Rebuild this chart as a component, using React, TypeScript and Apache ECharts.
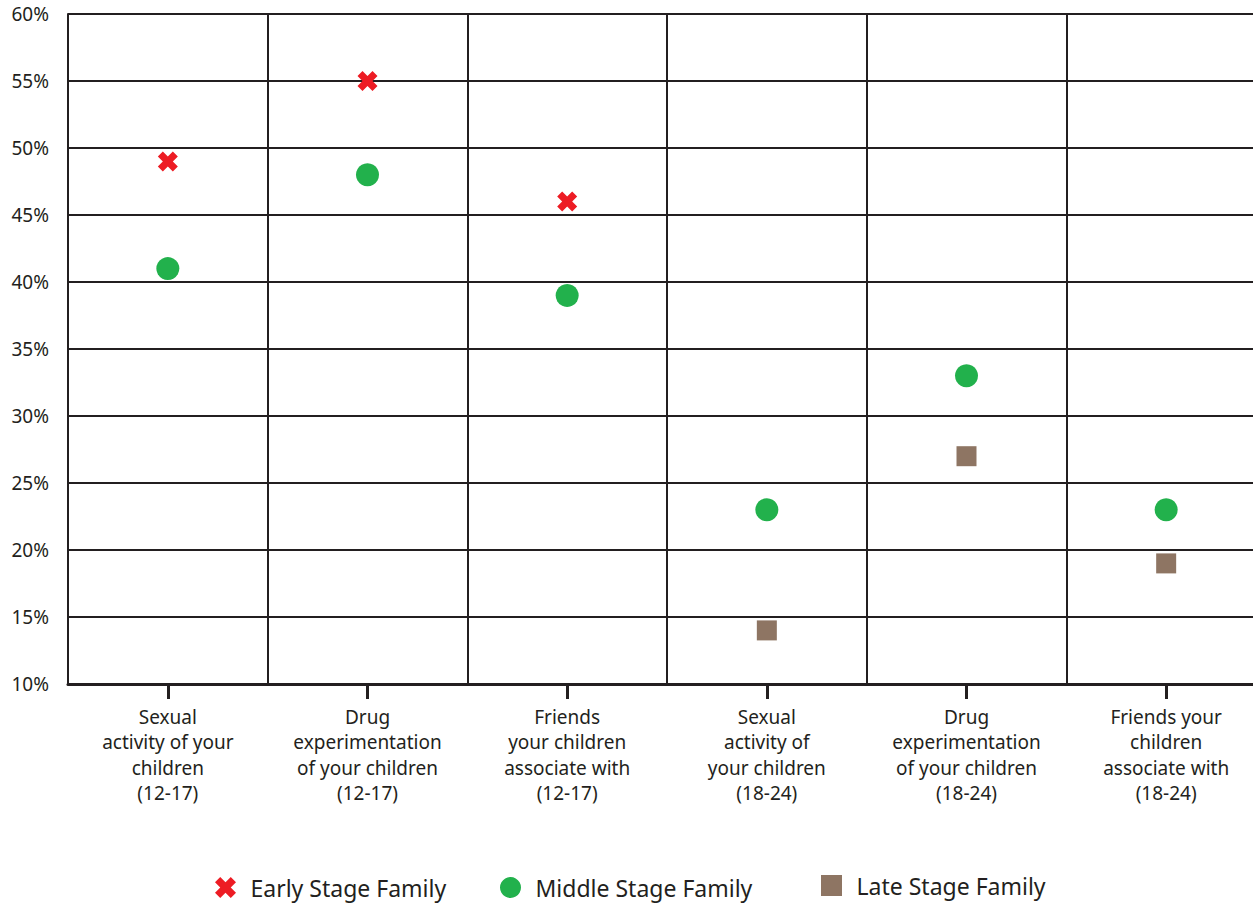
import React, { useEffect, useRef } from "react";
import * as echarts from "echarts";

const categories = [
  "Sexual\nactivity of your\nchildren\n(12-17)",
  "Drug\nexperimentation\nof your children\n(12-17)",
  "Friends\nyour children\nassociate with\n(12-17)",
  "Sexual\nactivity of\nyour children\n(18-24)",
  "Drug\nexperimentation\nof your children\n(18-24)",
  "Friends your\nchildren\nassociate with\n(18-24)",
];
const earlyStage: (number | null)[] = [49, 55, 46, null, null, null];
const middleStage: (number | null)[] = [41, 48, 39, 23, 33, 23];
const lateStage: (number | null)[] = [null, null, null, 14, 27, 19];

const CROSS = "path://M0,5 L5,0 L10,5 L15,0 L20,5 L15,10 L20,15 L15,20 L10,15 L5,20 L0,15 L5,10 Z";
const SQUARE = "path://M0,0 L20,0 L20,20 L0,20 Z";
const TEXT = "#231f20";
const FONT = "Noto Sans";

export default function App() {
  const ref = useRef<HTMLDivElement>(null);
  useEffect(() => {
    if (!ref.current) return;
    const chart = echarts.init(ref.current, null, { renderer: "svg" });
    const legendBase = (name: string, icon: string, left: number, top: number) => ({
      show: true,
      left,
      top,
      padding: 0,
      orient: "horizontal",
      selectedMode: false,
      itemWidth: 40,
      itemHeight: 21,
      data: [{ name, icon }],
      textStyle: { fontSize: 23, color: TEXT, fontFamily: FONT },
    });
    chart.setOption({
      animation: false,
      backgroundColor: "#ffffff",
      textStyle: { fontFamily: FONT },
      grid: { left: 68, right: 4, top: 14, bottom: 220, containLabel: false },
      legend: [
        legendBase("Early Stage Family", CROSS, 215, 876),
        legendBase("Middle Stage Family", "circle", 500, 876),
        legendBase("Late Stage Family", SQUARE, 821, 874),
      ],
      xAxis: {
        type: "category",
        data: categories,
        boundaryGap: true,
        axisLine: { show: true, lineStyle: { color: TEXT, width: 3 } },
        axisTick: { show: true, alignWithLabel: true, length: 15, lineStyle: { color: TEXT, width: 3 } },
        axisLabel: {
          interval: 0,
          margin: 20,
          fontSize: 19,
          lineHeight: 25.5,
          color: TEXT,
          fontFamily: FONT,
          align: "center",
        },
        splitLine: { show: true, interval: 0, lineStyle: { color: TEXT, width: 2 } },
      },
      yAxis: {
        type: "value",
        min: 10,
        max: 60,
        interval: 5,
        axisLine: { show: true, lineStyle: { color: TEXT, width: 2 } },
        axisTick: { show: false },
        axisLabel: {
          formatter: "{value}%",
          margin: 19,
          fontSize: 19,
          color: TEXT,
          fontFamily: FONT,
        },
        splitLine: { show: true, lineStyle: { color: TEXT, width: 2 } },
      },
      series: [
        {
          name: "Early Stage Family",
          type: "scatter",
          data: earlyStage,
          symbol: CROSS,
          symbolSize: 20,
          itemStyle: { color: "#ed1c24", opacity: 1 },
        },
        {
          name: "Middle Stage Family",
          type: "scatter",
          data: middleStage,
          symbol: "circle",
          symbolSize: 23,
          itemStyle: { color: "#22b14c", opacity: 1 },
        },
        {
          name: "Late Stage Family",
          type: "scatter",
          data: lateStage,
          symbol: "rect",
          symbolSize: 20,
          itemStyle: { color: "#8e7563", opacity: 1 },
        },
      ],
    });
    return () => chart.dispose();
  }, []);
  return (
    <div
      style={{ position: "absolute", left: 0, top: 0, width: 1253, height: 904, overflow: "hidden" }}
    >
      <div
        ref={ref}
        style={{ position: "absolute", left: 0, top: 0, width: 1270, height: 904 }}
      />
    </div>
  );
}
